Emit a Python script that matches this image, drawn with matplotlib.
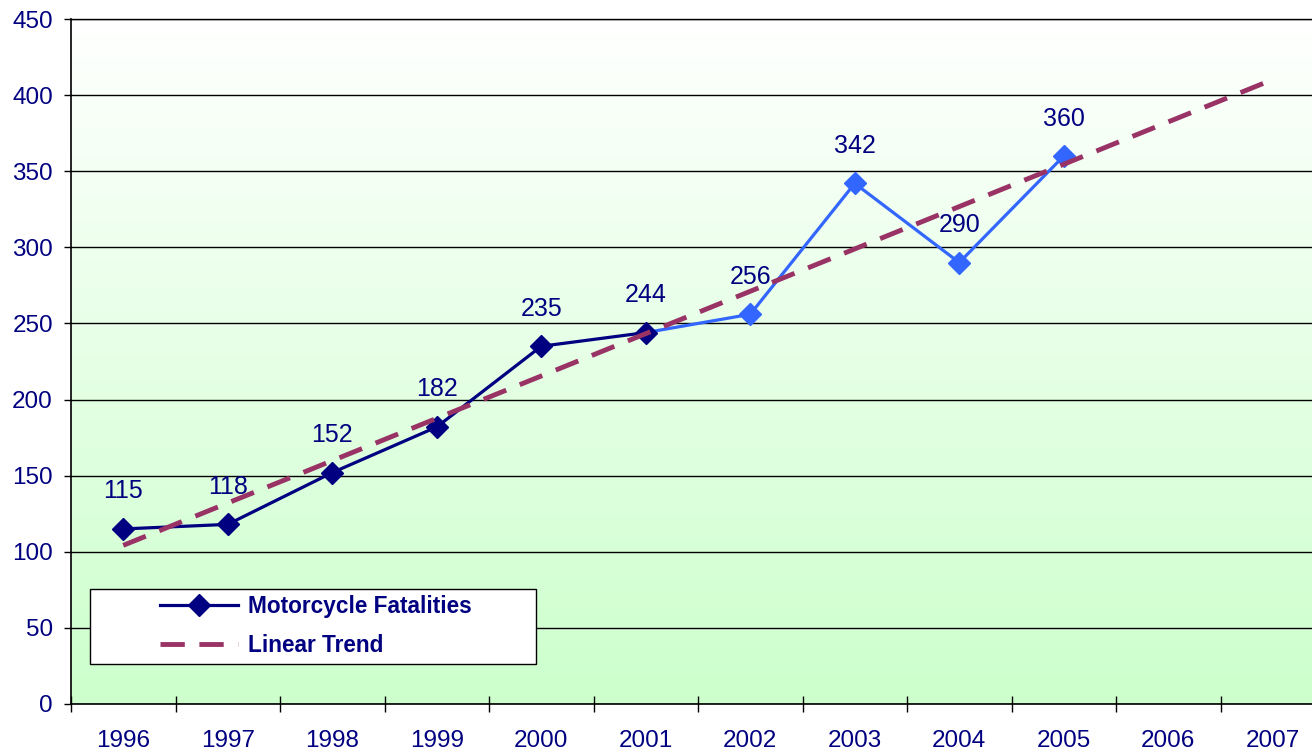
import numpy as np
import matplotlib
matplotlib.use('Agg')
import matplotlib.pyplot as plt
from matplotlib.lines import Line2D
from matplotlib.patches import Rectangle

plt.rcParams['font.family'] = ['Liberation Sans', 'DejaVu Sans']

# data
years = ['1996', '1997', '1998', '1999', '2000', '2001',
         '2002', '2003', '2004', '2005', '2006', '2007']
fatalities = [115, 118, 152, 182, 235, 244, 256, 342, 290, 360]
split = 5  # last index drawn in dark navy

navy = '#000080'
light_blue = '#3366FF'
maroon = '#993366'

x = np.arange(len(fatalities))
slope, intercept = np.polyfit(x, fatalities, 1)
trend_x = np.arange(len(years))
trend_y = slope * trend_x + intercept

fig = plt.figure(figsize=(13.12, 7.52), dpi=100)
# plot area runs a bit past the right edge of the picture
AW, AH = 1254, 685
ax = fig.add_axes([71 / 1312, 48 / 752, AW / 1312, AH / 752])

# gradient background, white at top to pale green at bottom
grad = np.linspace(0, 1, 256).reshape(-1, 1)
top = np.array([1.0, 1.0, 1.0])
bottom = np.array([0xCC, 0xFF, 0xCC]) / 255.0
img = top + (bottom - top) * grad[:, :, None]
ax.imshow(img, extent=(-0.5, len(years) - 0.5, 0, 450), aspect='auto',
          zorder=0, origin='upper')

ax.set_xlim(-0.5, len(years) - 0.5)
ax.set_ylim(0, 450)

ax.set_yticks(np.arange(0, 451, 50))
ax.yaxis.grid(True, color='black', linewidth=1.0, zorder=1)
ax.set_axisbelow(True)

ax.set_xticks(np.arange(len(years) + 1) - 0.5)
ax.set_xticklabels([])
ax.set_xticks(np.arange(len(years)), minor=True)
ax.set_xticklabels(years, minor=True)
ax.tick_params(axis='x', which='major', direction='inout', length=11,
               width=1.0, color='black')
ax.tick_params(axis='x', which='minor', length=0, pad=19,
               labelsize=17.5, labelcolor=navy)
ax.tick_params(axis='y', direction='out', length=5, width=1.0, pad=8,
               labelsize=17.5, labelcolor=navy)

ax.spines['right'].set_visible(False)
ax.spines['top'].set_color('black')
ax.spines['top'].set_linewidth(1.0)
ax.spines['left'].set_linewidth(1.2)
ax.spines['bottom'].set_linewidth(1.2)

# light blue later segment
ax.plot(x[split:], fatalities[split:], color=light_blue, linewidth=2.3,
        zorder=3)
ax.plot(x[split + 1:], fatalities[split + 1:], linestyle='none', marker='D',
        markersize=11.5, color=light_blue, zorder=4)
# dark navy early segment
ax.plot(x[:split + 1], fatalities[:split + 1], color=navy, linewidth=2.3,
        marker='D', markersize=11.5, zorder=4)

# linear trend
ax.plot(trend_x, trend_y, color=maroon, linewidth=3.5, dashes=(5, 3),
        zorder=5)

for xi, yi in zip(x, fatalities):
    ax.annotate(str(yi), (xi, yi), xytext=(0, 27), textcoords='offset points',
                ha='center', va='center', fontsize=18, color=navy, zorder=6)

# legend frame drawn by hand so the box matches the original width
box = Rectangle((19 / AW, 40 / AH), 446 / AW, 75 / AH, transform=ax.transAxes,
                facecolor='white', edgecolor='black', linewidth=1.0,
                zorder=7)
ax.add_patch(box)

handles = [
    Line2D([], [], color=navy, linewidth=2.3, marker='D', markersize=11.5),
    Line2D([], [], color=maroon, linewidth=3.5, dashes=(5, 3)),
]
leg = ax.legend(handles, ['Motorcycle Fatalities', 'Linear Trend'],
                loc='center left', bbox_to_anchor=(89 / AW, 78 / AH),
                borderaxespad=0, borderpad=0, frameon=False,
                handlelength=3.45, handletextpad=0.42,
                labelspacing=0.68, prop={'size': 16.3, 'weight': 'bold'})
for t in leg.get_texts():
    t.set_color(navy)
leg.set_zorder(8)

fig.savefig('out.png', dpi=100)
